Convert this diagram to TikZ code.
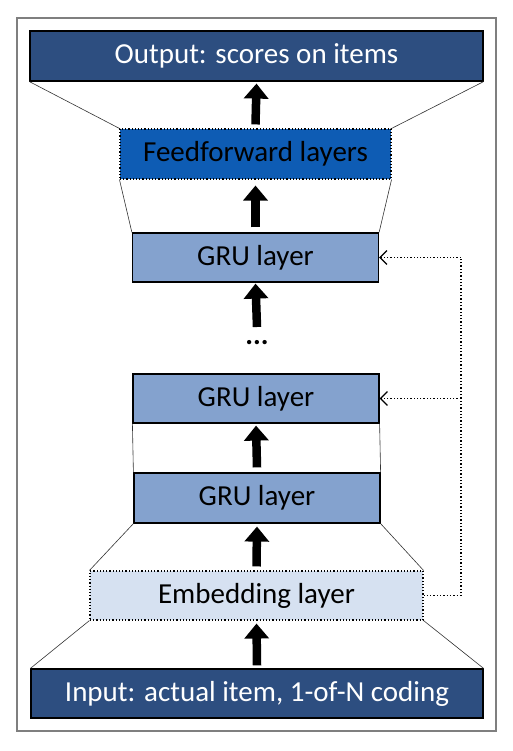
\documentclass[tikz,border=0pt]{standalone}
\usepackage{fontspec}
\setmainfont{Carlito}
\usetikzlibrary{arrows.meta}
\definecolor{darkb}{HTML}{2D4E80}
\definecolor{ffb}{HTML}{0E5CB4}
\definecolor{grub}{HTML}{84A2CE}
\definecolor{embb}{HTML}{D6E1F1}
\definecolor{framec}{HTML}{7F7F7F}
\begin{document}
\begin{tikzpicture}[x=1pt,y=-1pt,
  layer/.style={draw=black,line width=1.2pt,inner sep=0pt,font=\fontsize{29}{34}\selectfont},
  darklayer/.style={layer,fill=darkb,text=white},
  dotlayer/.style={layer,dotted,line width=1.1pt},
  funnel/.style={draw=black!80,line width=0.6pt},
  bigarrow/.style={line width=8.5pt,-{Triangle[length=15pt,width=24pt]}},
  fb/.style={dotted,line width=1.3pt,-{Straight Barb[length=7pt,width=14pt,line width=1.2pt]}}]
\useasboundingbox (0,0) rectangle (513,751);
\draw[framec,line width=1.3pt] (17,18) rectangle (496,731);
% nodes
\node[darklayer,minimum width=453pt,minimum height=50pt] (out) at (256.5,56) {Output: scores on items};
\node[dotlayer,fill=ffb,minimum width=271pt,minimum height=50pt] (ff) at (255.5,154) {Feedforward layers};
\node[layer,fill=grub,minimum width=246pt,minimum height=49pt] (g3) at (255.5,257.5) {GRU layer};
\node[font=\fontsize{29}{34}\selectfont\bfseries] (dots) at (257,343) {...};
\coordinate (gap) at (257,327);
\node[layer,fill=grub,minimum width=246pt,minimum height=49pt] (g2) at (256,398.5) {GRU layer};
\node[layer,fill=grub,minimum width=246pt,minimum height=50pt] (g1) at (257,498) {GRU layer};
\node[dotlayer,fill=embb,minimum width=333pt,minimum height=49pt] (emb) at (256.5,595.5) {Embedding layer};
\node[darklayer,minimum width=452pt,minimum height=49pt] (in) at (257,693.5) {Input: actual item, 1-of-N coding};
% funnel lines
\draw[funnel] (out.south west) -- (ff.north west);
\draw[funnel] (out.south east) -- (ff.north east);
\draw[funnel] (ff.south west) -- (g3.north west);
\draw[funnel] (ff.south east) -- (g3.north east);
\draw[funnel] (g2.south west) -- (g1.north west);
\draw[funnel] (g2.south east) -- (g1.north east);
\draw[funnel] (g1.south west) -- (emb.north west);
\draw[funnel] (g1.south east) -- (emb.north east);
\draw[funnel] (emb.south west) -- (in.north west);
\draw[funnel] (emb.south east) -- (in.north east);
% big arrows
\draw[bigarrow] ([yshift=4pt]ff.north) -- ([yshift=-2pt]out.south);
\draw[bigarrow] ([yshift=5pt]g3.north) -- ([yshift=-6pt]ff.south);
\draw[bigarrow] (gap) -- ([yshift=-1pt]g3.south);
\draw[bigarrow] ([yshift=5pt]g1.north) -- ([yshift=-2pt]g2.south);
\draw[bigarrow] ([yshift=4pt]emb.north) -- ([yshift=-3pt]g1.south);
\draw[bigarrow] ([yshift=3pt]in.north) -- ([yshift=-3pt]emb.south);
% feedback
\coordinate (c1) at (461,595.5);
\coordinate (c2) at (461,398.5);
\coordinate (c3) at (461,257.5);
\draw[dotted,line width=1.3pt] (emb.east) -- (c1) -- (c3);
\draw[fb] (c3) -- (g3.east);
\draw[fb] (c2) -- (g2.east);
\end{tikzpicture}
\end{document}
